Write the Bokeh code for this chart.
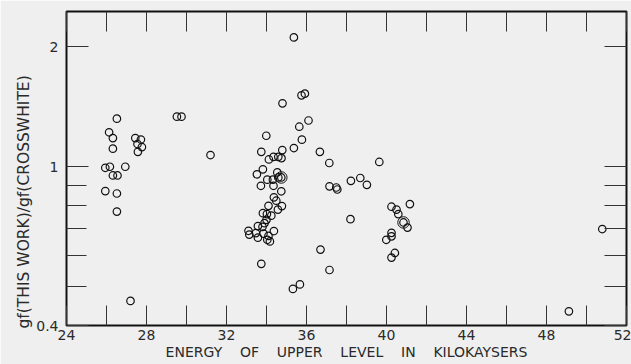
import math
from bokeh.plotting import figure
from bokeh.models import (FixedTicker, LinearAxis, LogAxis, Title, Range1d,
                          CustomJSTickFormatter)
from bokeh.embed import file_html
from bokeh.resources import INLINE

# Energy of upper level (kilokaysers) and gf ratio (this work / Crosswhite)
energy = [26.52, 26.13, 26.32, 26.32, 25.94, 26.17, 26.94, 26.32, 26.55, 25.94,
          26.52, 26.52, 27.44, 27.72, 27.55, 27.77, 27.57, 29.52, 29.75, 31.20,
          27.20, 33.99, 35.64, 35.77, 35.37, 33.74, 34.79, 34.12, 34.35, 34.59,
          34.75, 33.82, 33.52, 34.04, 34.32, 34.54, 34.59, 34.74, 33.72, 34.35,
          34.74, 34.37, 34.49, 34.77, 34.57, 34.10, 34.02, 33.82, 34.24, 34.00,
          33.90, 33.57, 33.80, 33.10, 33.14, 33.47, 33.57, 33.85, 34.10, 34.04,
          34.17, 34.37, 33.74, 35.32, 35.67, 35.37, 35.75, 35.92, 34.80, 36.10,
          36.67, 37.14, 39.64, 37.15, 37.49, 37.54, 38.22, 38.69, 39.02, 38.20,
          36.70, 37.15, 40.25, 40.50, 40.59, 41.17, 40.85, 41.05, 40.25, 40.25,
          39.99, 40.42, 40.25, 50.79, 49.12]
ratio = [1.32, 1.22, 1.18, 1.11, 0.994, 1.0, 1.0, 0.951, 0.951, 0.869,
         0.857, 0.772, 1.18, 1.17, 1.14, 1.12, 1.09, 1.335, 1.335, 1.07,
         0.461, 1.196, 1.26, 1.169, 1.114, 1.09, 1.101, 1.043, 1.059, 1.059,
         1.051, 0.985, 0.957, 0.928, 0.928, 0.968, 0.94, 0.94, 0.896, 0.896,
         0.868, 0.838, 0.822, 0.797, 0.781, 0.798, 0.761, 0.765, 0.754, 0.736,
         0.722, 0.710, 0.707, 0.691, 0.676, 0.682, 0.664, 0.680, 0.671, 0.656,
         0.650, 0.690, 0.571, 0.494, 0.507, 2.11, 1.51, 1.525, 1.442, 1.306,
         1.09, 1.022, 1.028, 0.893, 0.887, 0.877, 0.922, 0.937, 0.901, 0.739,
         0.620, 0.551, 0.794, 0.781, 0.761, 0.806, 0.725, 0.704, 0.683, 0.669,
         0.656, 0.608, 0.592, 0.698, 0.434]

# coincident points (drawn with an extra, larger ring)
double_energy = [34.74, 40.85]
double_ratio = [0.94, 0.725]

x_major = [24, 28, 32, 36, 40, 44, 48, 52]
x_minor = [26, 30, 34, 38, 42, 46, 50]
y_major = [0.4, 1, 2]
y_minor = [0.5, 0.6, 0.7, 0.8, 0.9]

FONT = "DejaVu Sans"
TXT = "#2a2a2a"
BG = "#efefef"
NB = "\u00a0\u00a0\u00a0\u00a0"

p = figure(width=631, height=364, output_backend="svg", toolbar_location=None,
           y_axis_type="log", x_range=Range1d(24, 52), y_range=Range1d(0.4, 2.45),
           x_axis_location=None, y_axis_location=None,
           min_border_left=66, min_border_right=5, min_border_top=11,
           min_border_bottom=39)
p.background_fill_color = BG
p.border_fill_color = BG
p.outline_line_color = "#111111"
p.outline_line_width = 2
p.xgrid.visible = False
p.ygrid.visible = False

def style_axis(ax, labels=True):
    ax.axis_line_color = None
    ax.major_tick_out = 0
    ax.minor_tick_out = 0
    ax.major_tick_line_color = "#333333"
    ax.minor_tick_line_color = "#333333"
    ax.major_tick_line_width = 1
    ax.minor_tick_line_width = 1
    ax.major_label_text_font = FONT
    ax.major_label_text_color = TXT
    ax.major_label_text_font_size = "14px"
    if not labels:
        ax.major_label_text_alpha = 0
        ax.major_label_text_font_size = "1px"
        ax.major_label_standoff = 0

xfmt = CustomJSTickFormatter(code="return String(tick);")

bottom = LinearAxis(ticker=FixedTicker(ticks=x_major, minor_ticks=x_minor),
                    formatter=xfmt)
style_axis(bottom)
bottom.major_tick_in = 20
bottom.minor_tick_in = 20
bottom.major_label_standoff = 4
bottom.axis_label = NB.join(["ENERGY", "OF", "UPPER", "LEVEL", "IN", "KILOKAYSERS"])
bottom.axis_label_text_font = FONT
bottom.axis_label_text_font_style = "normal"
bottom.axis_label_text_font_size = "14px"
bottom.axis_label_text_color = TXT
bottom.axis_label_standoff = 1
p.add_layout(bottom, "below")

top = LinearAxis(ticker=FixedTicker(ticks=x_major, minor_ticks=x_minor),
                 formatter=xfmt)
style_axis(top, labels=False)
top.major_tick_in = 20
top.minor_tick_in = 20
p.add_layout(top, "above")

yfmt = CustomJSTickFormatter(code="return String(tick);")
left = LogAxis(ticker=FixedTicker(ticks=y_major, minor_ticks=y_minor), formatter=yfmt)
style_axis(left)
left.major_tick_in = 22
left.minor_tick_in = 20
left.major_label_standoff = 8
p.add_layout(left, "left")

right = LogAxis(ticker=FixedTicker(ticks=y_major, minor_ticks=y_minor), formatter=yfmt)
style_axis(right, labels=False)
right.major_tick_in = 22
right.minor_tick_in = 22
p.add_layout(right, "right")

p.scatter(energy, ratio, marker="circle", size=7.5, fill_color=None,
          line_color="#111111", line_width=1.2)
p.scatter(double_energy, double_ratio, marker="circle", size=11.5, fill_color=None,
          line_color="#111111", line_width=1.0)

ytitle = Title(text="gf(THIS WORK)/gf(CROSSWHITE)", align="left", offset=-3,
               text_font=FONT, text_font_size="15.5px", text_font_style="normal",
               text_color=TXT, standoff=2)
p.add_layout(ytitle, "left")

open("out.html", "w").write(file_html(p, INLINE))
